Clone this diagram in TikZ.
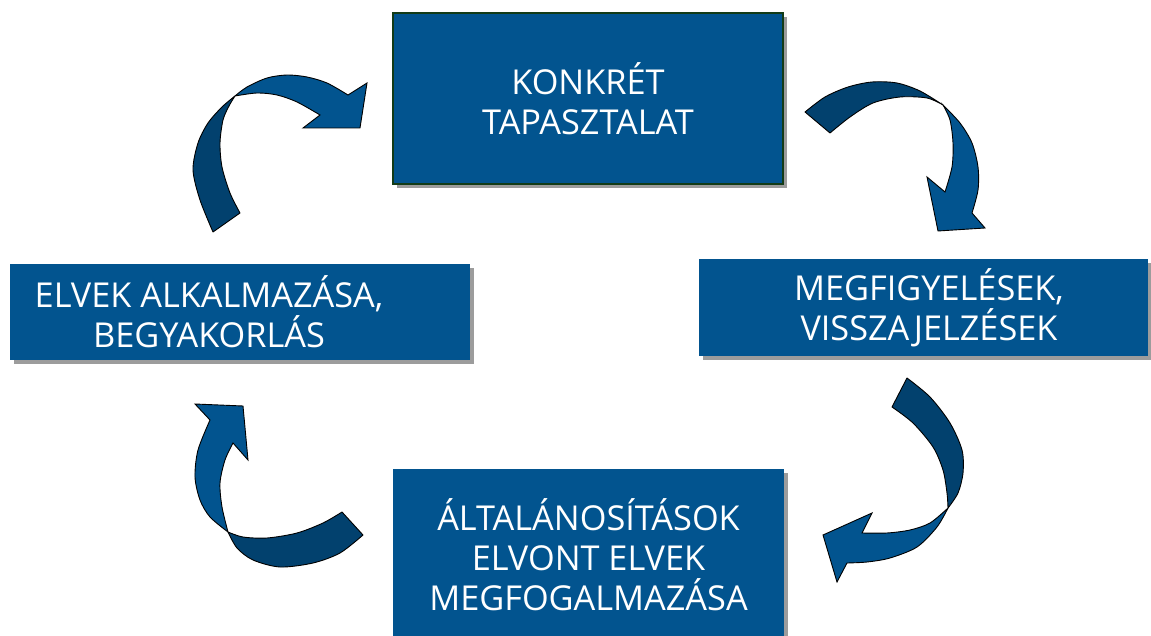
\documentclass[tikz,border=0pt]{standalone}
\usepackage{fontspec}
\setmainfont{Open Sans}
\usetikzlibrary{shadows}
\definecolor{stageblue}{HTML}{02548F}
\definecolor{tailblue}{HTML}{02416E}
\definecolor{framegreen}{HTML}{123B17}
\definecolor{shadowgray}{HTML}{9C9C9C}
\newcommand{\stagefont}{\fontsize{34.3}{40}\selectfont}
\tikzset{
  stagebox/.style={fill=stageblue, draw=none, text=white, align=center, inner sep=0pt, font=\stagefont,
    drop shadow={shadow xshift=4pt, shadow yshift=-4pt, fill=shadowgray, opacity=1}},
  stagetext/.style={text=white, align=center, inner sep=0pt, font=\stagefont},
  tailpart/.style={fill=tailblue, draw=black, line width=0.9pt, line join=round},
  headpart/.style={fill=stageblue, draw=black, line width=0.9pt, line join=miter}
}

\begin{document}
\begin{tikzpicture}[x=1pt, y=-1pt]
  \useasboundingbox (0,0) rectangle (1151,636);

  % the four stages of the cycle
  \node[stagebox, draw=framegreen, line width=2pt, minimum width=390pt, minimum height=171pt] (concrete) at (588,98.5) {KONKRÉT\\TAPASZTALAT};
  \node[stagebox, minimum width=449pt, minimum height=97pt] (observe) at (923.5,307.5) {};
  \node[stagetext] (observetext) at (929,307.5) {MEGFIGYELÉSEK,\\VISSZAJELZÉSEK};
  \node[stagebox, minimum width=391pt, minimum height=171pt] (abstract) at (588.5,554.5) {ÁLTALÁNOSÍTÁSOK\\ELVONT ELVEK\\MEGFOGALMAZÁSA};
  \node[stagebox, minimum width=460pt, minimum height=96pt] (apply) at (240,312) {};
  \node[stagetext] (applytext) at (209,312) {ELVEK ALKALMAZÁSA,\\BEGYAKORLÁS};

  % curved arrows: a dark tail band twisting into a light head band
  % top left
  \filldraw[tailpart] plot[smooth] coordinates {(213,232) (200,200) (193,170) (198,143) (208,123) (222,107) (235,96)}
    -- plot[smooth] coordinates {(235,96) (229,106) (223,120) (220,143) (222,167) (230,193) (240,213)} -- cycle;
  \filldraw[headpart] plot[smooth] coordinates {(235,96) (247,87) (267,78) (287,75) (307,77) (327,83) (348,95)}
    -- (367,83) -- (360,128) -- (303,128) -- (320,115)
    -- plot[smooth] coordinates {(320,115) (297,102) (277,95) (257,93) (235,96)} -- cycle;
  % top right
  \filldraw[tailpart] plot[smooth] coordinates {(805,112) (825,97) (848,87) (872,82) (897,83) (920,91) (943,105)}
    -- plot[smooth] coordinates {(943,105) (927,98) (900,97) (873,103) (850,117) (830,133)} -- cycle;
  \filldraw[headpart] plot[smooth] coordinates {(943,105) (960,123) (972,143) (978,167) (978,190) (972,213)}
    -- (985,228) -- (938,231) -- (927,177) -- (945,192)
    -- plot[smooth] coordinates {(945,192) (952,167) (953,143) (950,120) (943,105)} -- cycle;
  % bottom right
  \filldraw[tailpart] plot[smooth] coordinates {(907,378) (930,397) (950,423) (962,450) (963,473) (958,493) (948,508)}
    -- plot[smooth] coordinates {(948,508) (947,493) (943,470) (933,447) (913,423) (892,407)} -- cycle;
  \filldraw[headpart] plot[smooth] coordinates {(948,508) (937,527) (917,547) (890,558) (867,562) (847,563)}
    -- (837,582) -- (823,535) -- (872,513) -- (862,533)
    -- plot[smooth] coordinates {(862,533) (887,533) (910,530) (930,523) (948,508)} -- cycle;
  % bottom left
  \filldraw[tailpart] plot[smooth] coordinates {(342,512) (323,523) (297,533) (267,538) (243,537) (228,532)}
    -- plot[smooth] coordinates {(228,532) (237,548) (253,560) (280,567) (313,563) (340,553) (363,535)} -- cycle;
  \filldraw[headpart] plot[smooth] coordinates {(228,532) (210,517) (200,500) (195,477) (198,450) (210,420)}
    -- (195,404) -- (243,406) -- (248,460) -- (233,443)
    -- plot[smooth] coordinates {(233,443) (225,460) (220,483) (222,507) (228,532)} -- cycle;
\end{tikzpicture}
\end{document}
